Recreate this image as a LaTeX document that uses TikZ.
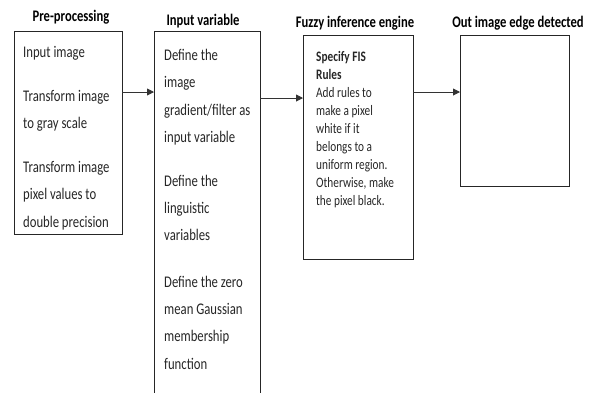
\documentclass[tikz,border=0pt]{standalone}
\usepackage{fontspec}
\setmainfont{Carlito}
\usetikzlibrary{arrows.meta, positioning}
\tikzset{
    box/.style = {
      draw=black!85, line width=0.9pt, anchor=north west,
      inner sep=0, outer sep=0,
    },
    tall/.style = {
      yscale=1.28, transform shape,
    },
    title/.style = {
      tall, inner sep=0, font=\fontsize{12.6}{14}\selectfont\bfseries,
    },
    txt/.style = {
      tall, inner sep=0, align=left, text=black!85,
      font=\fontsize{12.7}{21.3}\selectfont,
    },
    small txt/.style = {
      txt, font=\fontsize{11.3}{14.1}\selectfont,
    },
    flow/.style = {
      line width=0.9pt, black!80, arrows={-Triangle[length=7pt, width=7pt]},
    },
}

\begin{document}
\begin{tikzpicture}[x=1pt, y=-1pt]
    \useasboundingbox (0,0) rectangle (591,392);
    \clip (0,0) rectangle (591,392);

    %% Draw the four stage boxes
    \node [box, minimum width=108pt, minimum height=203pt] (pre) at (14,31) {};
    \node [box, minimum width=106pt, minimum height=380pt] (inp) at (154,31) {};
    \node [box, minimum width=110pt, minimum height=224pt] (fuz) at (303,35) {};
    \node [box, minimum width=109pt, minimum height=151pt] (out) at (460,35) {};

    %% Titles above the boxes
    \node [title, above=7pt of pre, xshift=3pt] {Pre-processing};
    \node [title, above=3pt of inp, xshift=-4pt] {Input variable};
    \node [title, above=5pt of fuz, xshift=-3pt] {Fuzzy inference engine};
    \node [title, above=5pt of out, xshift=3.5pt] {Out image edge detected};

    %% Box contents
    \node [txt, below right=15pt and 9pt of pre.north west] (pretxt)
      {Input image\\[13pt]
       Transform image\\to gray scale\\[13pt]
       Transform image\\pixel values to\\double precision};
    \node [txt, below right=18pt and 10pt of inp.north west] (inptxt)
      {Define the\\image\\gradient/filter as\\input variable\\[13pt]
       Define the\\linguistic\\variables\\[15pt]
       Define the zero\\mean Gaussian\\membership\\function};
    \node [small txt, below right=16pt and 13pt of fuz.north west] (fuztxt)
      {\textbf{Specify FIS}\\\textbf{Rules}\\Add rules to\\make a pixel\\white if it\\
       belongs to a\\uniform region.\\Otherwise, make\\the pixel black.};

    %% Connect the stages
    \draw [flow] ([yshift=-61pt]pre.north east) -- ([yshift=-61pt]inp.north west);
    \draw [flow] ([yshift=-67pt]inp.north east) -- ([yshift=-63pt]fuz.north west);
    \draw [flow] ([yshift=-57pt]fuz.north east) -- ([yshift=-57pt]out.north west);
\end{tikzpicture}
\end{document}
